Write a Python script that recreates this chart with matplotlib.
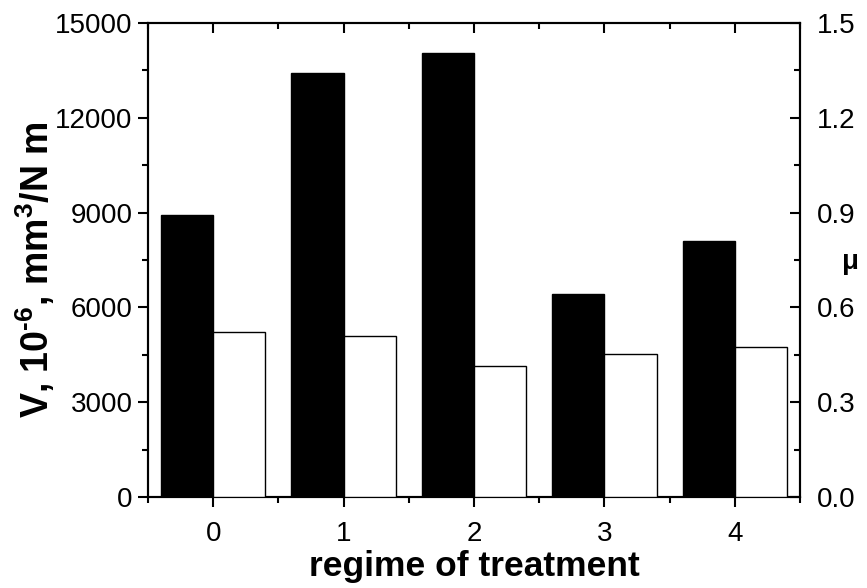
import matplotlib
matplotlib.use("Agg")
import matplotlib.pyplot as plt
import numpy as np
from matplotlib.ticker import MultipleLocator

plt.rcParams['font.family'] = ['Liberation Sans', 'DejaVu Sans']
plt.rcParams['mathtext.fontset'] = 'custom'
plt.rcParams['mathtext.rm'] = 'Liberation Sans'
plt.rcParams['mathtext.bf'] = 'Liberation Sans:bold'

regimes = [0, 1, 2, 3, 4]
wear_V = [8920, 13420, 14060, 6430, 8100]
friction_mu = [0.522, 0.508, 0.416, 0.453, 0.474]

fig = plt.figure(figsize=(8.67, 5.88), dpi=100)
ax = fig.add_axes([0.1707, 0.1548, 0.7520, 0.8061])
ax2 = ax.twinx()

x = np.array(regimes)
w = 0.4
ax.bar(x - w / 2, wear_V, width=w, color='black', edgecolor='black', linewidth=1, zorder=3)
ax2.bar(x + w / 2, friction_mu, width=w, color='white', edgecolor='black', linewidth=1, zorder=3)

ax.set_xlim(-0.5, 4.5)
ax.set_ylim(0, 15000)
ax2.set_ylim(0, 1.5)

ax.set_xticks(regimes)
ax.xaxis.set_minor_locator(MultipleLocator(0.5))
ax.set_yticks(np.arange(0, 15001, 3000))
ax.yaxis.set_minor_locator(MultipleLocator(1500))
ax2.set_yticks(np.arange(0, 1.51, 0.3))
ax2.set_yticklabels(['0.0', '0.3', '0.6', '0.9', '1.2', '1.5'])
ax2.yaxis.set_minor_locator(MultipleLocator(0.15))

for a in (ax, ax2):
    for s in a.spines.values():
        s.set_linewidth(1.5)

fs = 20
ax.tick_params(axis='x', which='major', direction='out', length=7, width=1.5, labelsize=fs, top=True, pad=10)
ax.tick_params(axis='x', which='minor', direction='out', length=4, width=1.5, top=True)
ax.tick_params(axis='x', which='both', labeltop=False)
ax.tick_params(axis='y', which='major', direction='out', length=7, width=1.5, labelsize=fs, right=False, pad=4)
ax.tick_params(axis='y', which='minor', direction='out', length=4, width=1.5, right=False)
ax2.tick_params(axis='y', which='major', direction='in', length=7, width=1.5, labelsize=fs, pad=12)
ax2.tick_params(axis='y', which='minor', direction='in', length=4, width=1.5)

# top ticks point inward
for tk in ax.xaxis.get_major_ticks() + ax.xaxis.get_minor_ticks():
    tk.tick2line.set_marker(3)

ax.set_xlabel('regime of treatment', fontsize=25.5, fontweight='bold')
ax.xaxis.set_label_coords(0.5, -0.112)
ax.set_ylabel('V, 10$^{\\mathbf{\u2010}\\mathbf{6}}$, mm$^{\\mathbf{3}}$/N m', fontsize=27, fontweight='bold')
ax.yaxis.set_label_coords(-0.14, 0.48)
fig.text(851 / 867, 1 - 262 / 588, 'μ', fontsize=20, fontweight='bold', ha='center', va='center')

fig.savefig('out.png', dpi=100)
